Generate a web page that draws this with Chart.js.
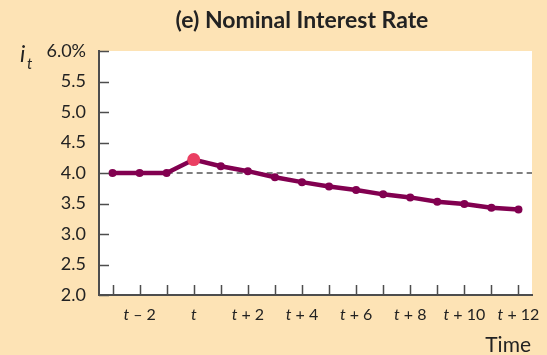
<!DOCTYPE html>
<html>
<head>
<meta charset="utf-8">
<script src="https://cdn.jsdelivr.net/npm/chart.js@4"></script>
<style>
  html, body { margin: 0; padding: 0; background: #fde3b5; }
  canvas { display: block; }
</style>
</head>
<body>
<canvas id="rateChart" width="547" height="355"></canvas>
<script>
// periods around the shock, one point each
const periods = ['t – 3', 't – 2', 't – 1', 't', 't + 1', 't + 2', 't + 3', 't + 4',
                 't + 5', 't + 6', 't + 7', 't + 8', 't + 9', 't + 10', 't + 11', 't + 12'];
const rate = [4.0, 4.0, 4.0, 4.22, 4.11, 4.03, 3.93, 3.85,
              3.78, 3.72, 3.65, 3.60, 3.53, 3.49, 3.43, 3.40];
const shownPeriods = ['t – 2', 't', 't + 2', 't + 4', 't + 6', 't + 8', 't + 10', 't + 12'];
const yTicks = [2.0, 2.5, 3.0, 3.5, 4.0, 4.5, 5.0, 5.5, 6.0];
const shockPeriod = 't';
const baseline = 4.0;
const baselineFrom = 't – 1';

const lineColor = '#820050';
const shockColor = '#ea3f62';
const axisColor = '#4d4d4d';
const textColor = '#222';
const fontFamily = 'Lato, "Open Sans", sans-serif';

const decor = {
    id: 'decor',
    beforeDraw(chart) {
        const { ctx, chartArea: a } = chart;
        ctx.save();
        ctx.fillStyle = '#fff';
        ctx.fillRect(a.left, a.top, a.right - a.left, a.bottom - a.top);
        ctx.restore();
    },
    beforeDatasetsDraw(chart) {
        // dashed reference level
        const { ctx, chartArea: a, scales: { x, y } } = chart;
        const yy = y.getPixelForValue(baseline);
        ctx.save();
        ctx.strokeStyle = '#555';
        ctx.lineWidth = 1.5;
        ctx.setLineDash([6, 4]);
        ctx.beginPath();
        ctx.moveTo(x.getPixelForValue(periods.indexOf(baselineFrom)), yy);
        ctx.lineTo(a.right, yy);
        ctx.stroke();
        ctx.restore();
    },
    afterDraw(chart) {
        const { ctx, chartArea: a, scales: { x, y } } = chart;
        ctx.save();

        // inward tick marks
        ctx.strokeStyle = axisColor;
        ctx.lineWidth = 1.5;
        ctx.beginPath();
        yTicks.forEach(v => {
            const py = Math.round(y.getPixelForValue(v)) + 0.5;
            ctx.moveTo(a.left, py);
            ctx.lineTo(a.left + 10, py);
        });
        periods.forEach((p, i) => {
            const px = Math.round(x.getPixelForValue(i)) + 0.5;
            ctx.moveTo(px, a.bottom);
            ctx.lineTo(px, a.bottom - 10);
        });
        ctx.stroke();

        // period labels: italic t, upright offset
        ctx.fillStyle = textColor;
        ctx.textBaseline = 'middle';
        shownPeriods.forEach(p => {
            const px = x.getPixelForValue(periods.indexOf(p));
            const head = 't';
            const tail = p.slice(1);
            ctx.font = 'italic 16px ' + fontFamily;
            const w1 = ctx.measureText(head).width;
            ctx.font = '16px ' + fontFamily;
            const w2 = ctx.measureText(tail).width;
            let left = px - (w1 + w2) / 2;
            ctx.textAlign = 'left';
            ctx.font = 'italic 16px ' + fontFamily;
            ctx.fillText(head, left, a.bottom + 20);
            ctx.font = '16px ' + fontFamily;
            ctx.fillText(tail, left + w1, a.bottom + 20);
        });

        // title
        ctx.textAlign = 'center';
        ctx.font = 'bold 23px ' + fontFamily;
        ctx.fillText('(e) Nominal Interest Rate', 302, 21);

        // axis names
        ctx.textAlign = 'left';
        ctx.font = 'italic 23px ' + fontFamily;
        ctx.fillText('i', 20, 55);
        ctx.font = 'italic 15px ' + fontFamily;
        ctx.fillText('t', 27, 64);
        ctx.textAlign = 'right';
        ctx.font = '21px ' + fontFamily;
        ctx.fillText('Time', 531, 345);

        ctx.restore();
    }
};

new Chart(document.getElementById('rateChart'), {
    type: 'line',
    data: {
        labels: periods,
        datasets: [{
            data: rate,
            borderColor: lineColor,
            borderWidth: 4.5,
            tension: 0,
            pointRadius: ctx => periods[ctx.dataIndex] === shockPeriod ? 6.5 : 4,
            pointBackgroundColor: ctx => periods[ctx.dataIndex] === shockPeriod ? shockColor : lineColor,
            pointBorderWidth: 0
        }]
    },
    options: {
        responsive: false,
        animation: false,
        events: [],
        layout: { padding: { top: 51, right: 15, left: 0, bottom: 0 } },
        plugins: {
            legend: { display: false },
            title: { display: false },
            tooltip: { enabled: false }
        },
        scales: {
            x: {
                type: 'category',
                offset: true,
                grid: { display: false },
                border: { display: true, color: axisColor, width: 2 },
                ticks: { display: false },
                afterFit: s => { s.height = 60; }
            },
            y: {
                min: 2,
                max: 6,
                afterBuildTicks: s => { s.ticks = yTicks.map(v => ({ value: v })); },
                grid: { display: false, drawTicks: false },
                border: { display: true, color: axisColor, width: 2 },
                ticks: {
                    padding: 13,
                    color: textColor,
                    font: { family: fontFamily, size: 18 },
                    callback: v => v === 6 ? '6.0%' : v.toFixed(1)
                },
                afterFit: s => { s.width = 99; }
            }
        }
    },
    plugins: [decor]
});
</script>
</body>
</html>
